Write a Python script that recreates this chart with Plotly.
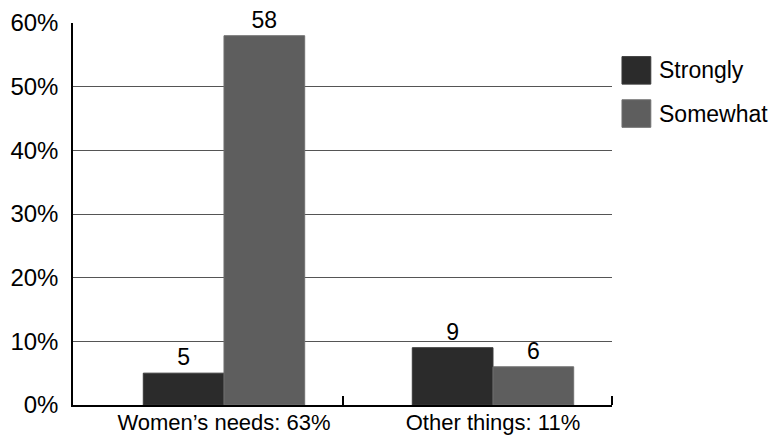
import plotly.graph_objects as go

categories = ["Women’s needs: 63%", "Other things: 11%"]
series_names = ["Strongly", "Somewhat"]
strongly = [5, 9]
somewhat = [58, 6]
y_ticks = [0, 10, 20, 30, 40, 50, 60]
y_tick_labels = ["0%", "10%", "20%", "30%", "40%", "50%", "60%"]

colors = ["#2b2b2b", "#5e5e5e"]
edge = ["#3a3a3a", "#707070"]
FONT = "Liberation Sans, Arial, sans-serif"

x_pos = list(range(len(categories)))
divider_ticks = [p + 0.4424 for p in x_pos]

fig = go.Figure()
for i, (name, vals) in enumerate(zip(series_names, [strongly, somewhat])):
    fig.add_trace(go.Bar(
        x=x_pos, y=vals, name=name,
        width=0.3, offset=-0.3 + 0.3 * i,
        marker=dict(color=colors[i], line=dict(color=edge[i], width=1)),
        text=[str(v) for v in vals], textposition="outside",
        textfont=dict(family=FONT, size=23, color="black"),
        cliponaxis=False, showlegend=False,
    ))

# custom legend (swatches + labels) in paper coordinates
for i, name in enumerate(series_names):
    y0 = 0.84 - i * 0.113
    fig.add_shape(type="rect", xref="paper", yref="paper",
                  x0=1.0185, x1=1.072, y0=y0, y1=y0 + 0.072,
                  fillcolor=colors[i], line=dict(color=edge[i], width=1))
    fig.add_annotation(xref="paper", yref="paper", x=1.083, y=y0 + 0.036,
                       text=name, showarrow=False, xanchor="left", yanchor="middle",
                       font=dict(family=FONT, size=23, color="black"))

fig.update_layout(
    width=774, height=437,
    margin=dict(l=73, r=162, t=23, b=32, autoexpand=False),
    paper_bgcolor="white", plot_bgcolor="white",
    barmode="overlay",
    font=dict(family=FONT, color="black"),
    xaxis=dict(
        automargin=False,
        range=[-0.5613, 1.4424],
        tickvals=x_pos, ticktext=categories, ticks="",
        tickfont=dict(family=FONT, size=22, color="black"),
        ticklabelstandoff=-3,
        showline=True, linecolor="black", linewidth=1.5,
        showgrid=False, zeroline=False,
        minor=dict(tickmode="array", tickvals=divider_ticks, ticks="inside", ticklen=9,
                   tickcolor="black", tickwidth=1.5, showgrid=False),
    ),
    yaxis=dict(
        automargin=False,
        range=[0, 60],
        tickvals=y_ticks, ticktext=y_tick_labels,
        tickfont=dict(family=FONT, size=24, color="black"),
        ticklabelstandoff=8,
        showline=True, linecolor="black", linewidth=1.5,
        showgrid=True, gridcolor="#555555", gridwidth=1,
        zeroline=False, ticks="", ticklen=0,
    ),
)

fig.write_html("out.html", config={"displayModeBar": False},
               post_script="document.body.style.margin='0px';document.body.style.overflow='hidden';")
